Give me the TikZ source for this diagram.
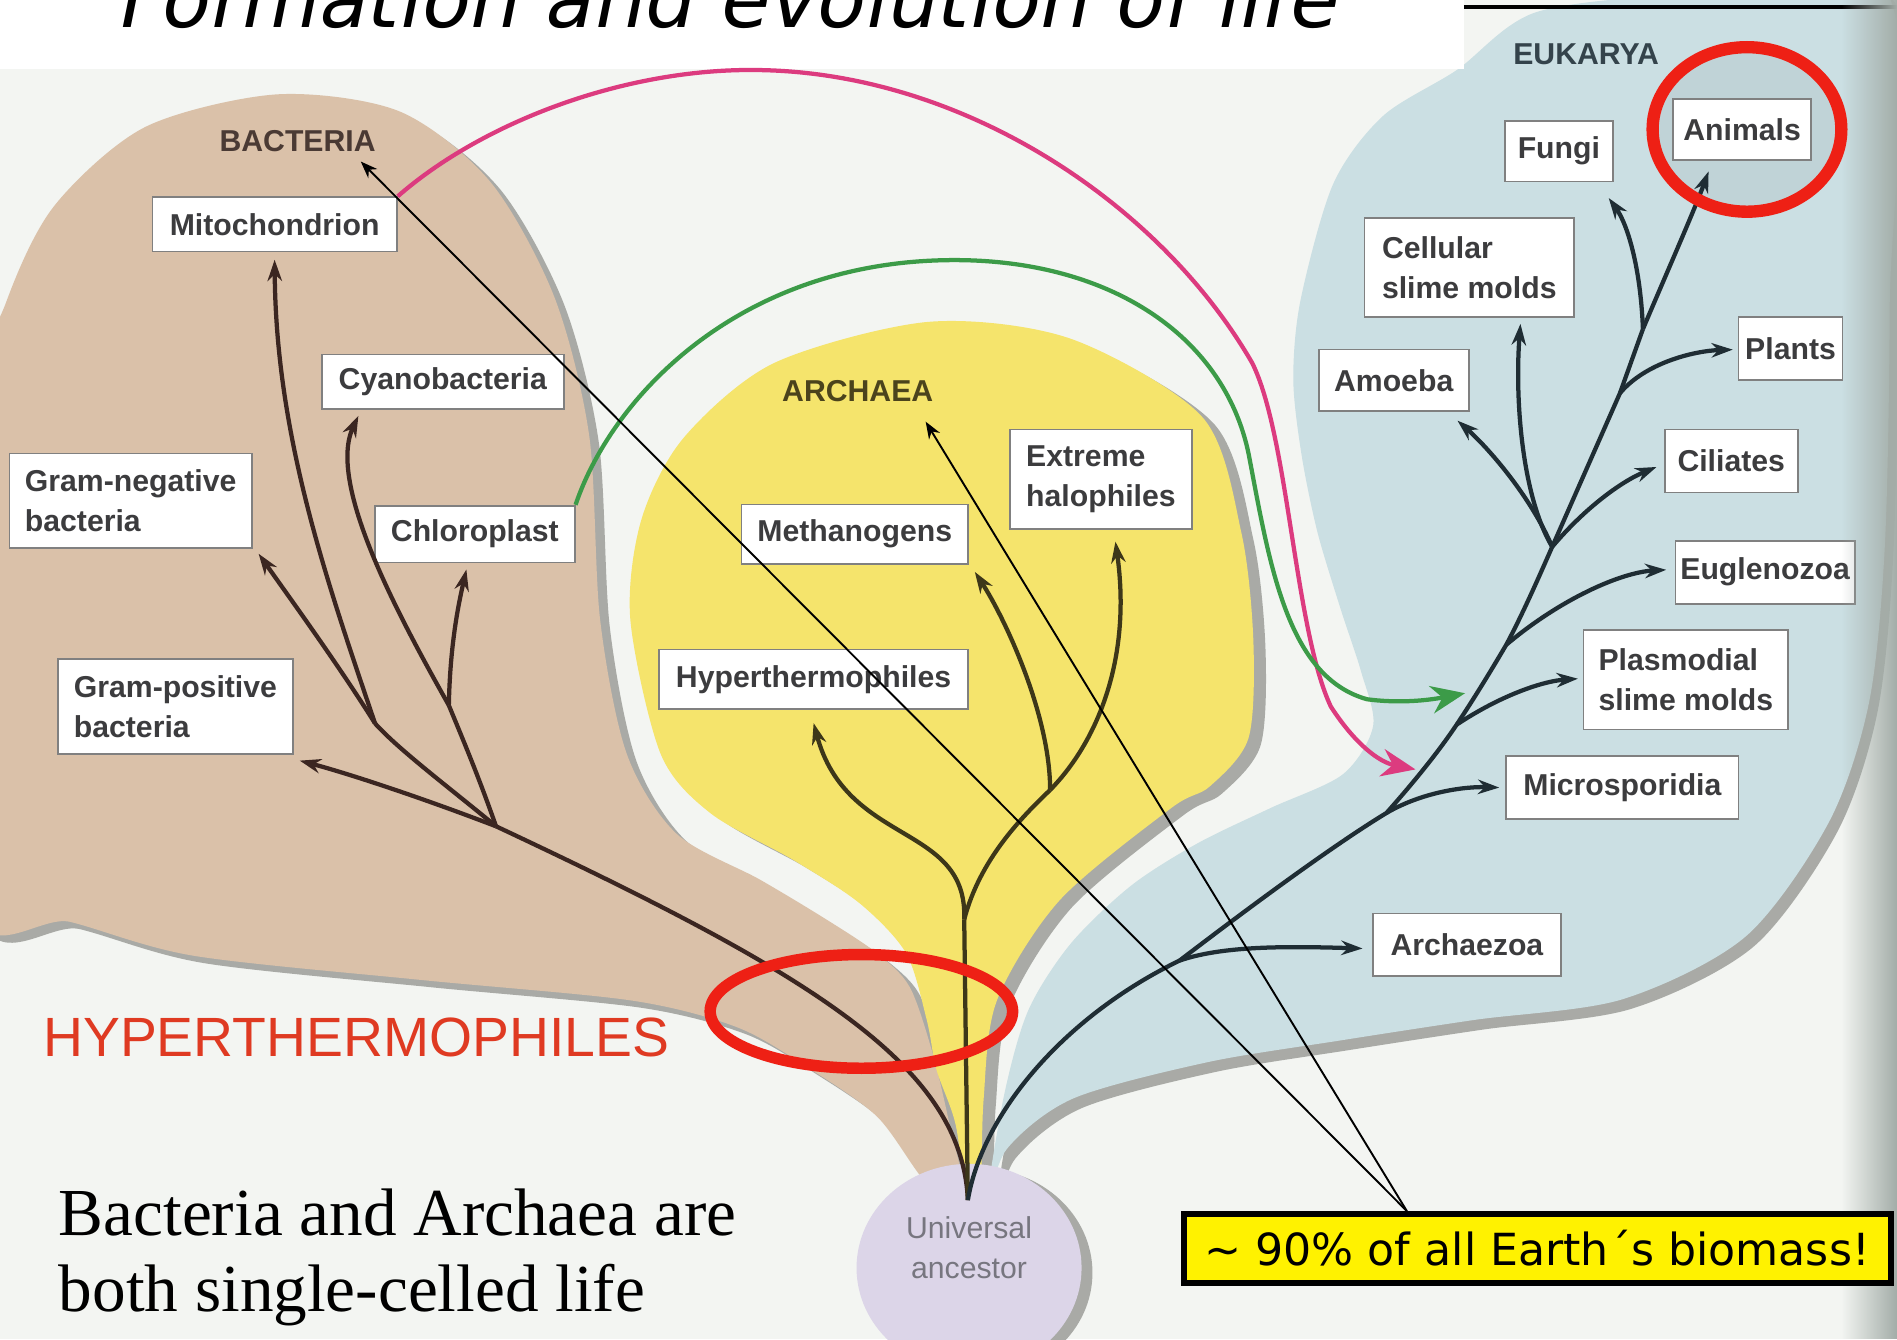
\documentclass[tikz,border=0pt]{standalone}
\usepackage{fontspec}
\setmainfont{Liberation Serif}
\newfontfamily\labelfont{Liberation Sans}
\newfontfamily\handfont{DejaVu Sans}
\newfontfamily\titlefont{DejaVu Sans}[FakeSlant=0.2]
\usetikzlibrary{arrows.meta,calc,fadings}
\definecolor{pagebg}{HTML}{F3F5F2}
\definecolor{bactfill}{HTML}{DAC1A9}
\definecolor{archfill}{HTML}{F5E46C}
\definecolor{eukfill}{HTML}{CBDFE3}
\definecolor{blobshadow}{HTML}{A9AAA6}
\definecolor{bactline}{HTML}{3B2621}
\definecolor{archline}{HTML}{3D3719}
\definecolor{eukline}{HTML}{1F2D34}
\definecolor{boxtext}{HTML}{3C3C3E}
\definecolor{plastid}{HTML}{3C9B48}
\definecolor{mitoline}{HTML}{DC3B7F}
\definecolor{markred}{HTML}{EE2015}
\definecolor{hyperred}{HTML}{DF3A22}
\definecolor{ancfill}{HTML}{DCD5E8}
\definecolor{ancestortext}{HTML}{77767F}
\definecolor{bactlabelcol}{HTML}{4A3A34}
\definecolor{archlabelcol}{HTML}{4B431C}
\definecolor{euklabelcol}{HTML}{34434B}
\definecolor{gutter}{HTML}{A3ADA8}
\newcommand\bacteriablob{plot[smooth cycle] coordinates {(-25,360) (5,250) (45,170) (120,105) (229,78) (330,92) (405,150) (458,245) (487,360) (496,512) (518,623) (559,689) (628,727) (683,760) (725,788) (752,816) (771,871) (785,930) (797,990) (766,978) (725,923) (667,882) (609,849) (522,827) (348,810) (160,790) (58,762) (-25,745)}}
\newcommand\archaeablob{plot[smooth cycle] coordinates {(800,1000) (790,930) (774,884) (766,843) (749,788) (711,747) (656,711) (587,672) (546,623) (521,512) (530,430) (565,362) (640,300) (768,266) (885,280) (994,345) (1026,440) (1036,530) (1032,610) (1000,650) (968,668) (876,744) (824,827) (813,909) (810,1000)}}
\newcommand\eukaryablob{plot[smooth cycle] coordinates {(815,998) (830,905) (850,835) (885,780) (935,732) (990,697) (1050,668) (1110,640) (1135,600) (1125,555) (1108,503) (1089,440) (1076,377) (1069,314) (1075,248) (1102,152) (1143,96) (1204,58) (1270,10) (1400,-5) (1560,-5) (1562,250) (1558,450) (1545,580) (1512,679) (1443,774) (1341,826) (1219,843) (1108,860) (998,878) (887,908) (832,950)}}
\begin{document}
\begin{tikzpicture}[x=0.01cm,y=-0.01cm,
  taxon/.style={draw=black!50, line width=0.4pt, fill=white, text=boxtext, align=left, inner sep=0pt, font=\labelfont\bfseries\fontsize{7.1}{9.4}\selectfont},
  domainlabel/.style={inner sep=0pt, font=\labelfont\bfseries\fontsize{7.1}{9.4}\selectfont},
  treeline/.style={line width=1pt},
  treearrow/.style={line width=1pt, -{Stealth[length=5pt,width=3.4pt]}},
  transfer/.style={line width=1pt, -{Stealth[length=8pt,width=6.5pt]}},
  pointer/.style={line width=0.45pt, -{Stealth[length=4pt,width=3pt]}},
  redring/.style={draw=markred, line width=2.7pt}]
\useasboundingbox (0,0) rectangle (1568,1107);
\clip (0,0) rectangle (1568,1107);
\fill[pagebg] (0,0) rectangle (1568,1107);
\fill[blobshadow, shift={(8,6)}] \bacteriablob;
\fill[bactfill] \bacteriablob;
\fill[blobshadow, shift={(10,6)}] \archaeablob;
\fill[archfill] \archaeablob;
\fill[blobshadow, shift={(7,8)}] \eukaryablob;
\fill[eukfill] \eukaryablob;
\fill[black, opacity=0.05] (1444,107) ellipse [x radius=76, y radius=66];
\fill[blobshadow] (810,1052) ellipse [x radius=93, y radius=86];
\fill[ancfill] (801,1048) ellipse [x radius=93, y radius=86];
\fill[white] (0,0) rectangle (1210,57);
\draw[line width=0.85pt] (1210,6) -- (1568,6);
\node[font=\titlefont\fontsize{18.7}{20}\selectfont, anchor=base west, inner sep=0pt] (title) at (95,23) {Formation and evolution of life};
\node[taxon, minimum width=2.02cm, minimum height=0.45cm] (mito) at (227,185.5) {Mitochondrion};
\node[taxon, minimum width=2cm, minimum height=0.45cm] (cyano) at (366,315.5) {Cyanobacteria};
\node[taxon, minimum width=2cm, minimum height=0.78cm] (gramneg) at (108,414) {Gram-negative\\bacteria};
\node[taxon, minimum width=1.65cm, minimum height=0.47cm] (chloro) at (392.5,441.5) {Chloroplast};
\node[taxon, minimum width=1.94cm, minimum height=0.78cm] (grampos) at (145,584) {Gram-positive\\bacteria};
\node[taxon, minimum width=1.87cm, minimum height=0.49cm] (methano) at (706.5,441.5) {Methanogens};
\node[taxon, minimum width=1.5cm, minimum height=0.82cm] (halo) at (910,396) {Extreme\\halophiles};
\node[taxon, minimum width=2.55cm, minimum height=0.49cm] (hyper) at (672.5,561.5) {Hyperthermophiles};
\node[taxon, minimum width=0.89cm, minimum height=0.5cm] (fungi) at (1288.5,125) {Fungi};
\node[taxon, minimum width=1.14cm, minimum height=0.5cm] (animals) at (1440,107) {Animals};
\node[taxon, minimum width=1.73cm, minimum height=0.82cm] (cellular) at (1214.5,221) {Cellular\\slime molds};
\node[taxon, minimum width=0.86cm, minimum height=0.52cm] (plants) at (1480,288) {Plants};
\node[taxon, minimum width=1.24cm, minimum height=0.51cm] (amoeba) at (1152,314.5) {Amoeba};
\node[taxon, minimum width=1.1cm, minimum height=0.52cm] (ciliates) at (1431,381) {Ciliates};
\node[taxon, minimum width=1.48cm, minimum height=0.52cm] (eugleno) at (1459,473) {Euglenozoa};
\node[taxon, minimum width=1.69cm, minimum height=0.82cm] (plasmo) at (1393.5,562) {Plasmodial\\slime molds};
\node[taxon, minimum width=1.92cm, minimum height=0.52cm] (micro) at (1341,651) {Microsporidia};
\node[taxon, minimum width=1.55cm, minimum height=0.52cm] (archaezoa) at (1212.5,781) {Archaezoa};
\node[domainlabel, text=bactlabelcol] (bactlabel) at (246,117) {BACTERIA};
\node[domainlabel, text=archlabelcol] (archlabel) at (709,323) {ARCHAEA};
\node[domainlabel, text=euklabelcol] (euklabel) at (1311,45) {EUKARYA};
\node[font=\labelfont\fontsize{7.1}{9.4}\selectfont, text=ancestortext, align=center, inner sep=0pt] (ancestor) at (801,1031) {Universal\\ancestor};
\coordinate (root) at (800,992);
\coordinate (bj) at (410,683);
\coordinate (bf1) at (310,598);
\coordinate (bf2) at (371,583);
\coordinate (af) at (797,760);
\coordinate (am) at (868,653);
\coordinate (ea) at (975,794);
\coordinate (em) at (1146,672);
\coordinate (ep) at (1204,599);
\coordinate (eg) at (1245,533);
\coordinate (ec) at (1283,452);
\coordinate (ev) at (1339,325);
\coordinate (eo) at (1358,272);
\coordinate (mitotarget) at (1170,636);
\coordinate (plastidtarget) at (1211,573);
\draw[treeline, bactline] (root) .. controls (795,880) and (670,805) .. (bj);
\draw[treearrow, bactline] (bj) .. controls (350,660) and (290,640) .. ($(grampos.south east)+(5,5)$);
\draw[treeline, bactline] (bj) .. controls (370,650) and (330,620) .. (bf1);
\draw[treearrow, bactline] (bf1) .. controls (280,550) and (240,495) .. ($(gramneg.south east)+(5,4)$);
\draw[treearrow, bactline] (bf1) .. controls (270,480) and (228,360) .. ($(mito.south)+(0,6)$);
\draw[treeline, bactline] (bj) .. controls (395,640) and (380,605) .. (bf2);
\draw[treearrow, bactline] (bf2) .. controls (372,530) and (380,495) .. ($(chloro.south)+(-7,5)$);
\draw[treearrow, bactline] (bf2) .. controls (330,510) and (270,400) .. ($(cyano.south west)+(31,5)$);
\draw[treeline, archline] (root) -- (af);
\draw[treearrow, archline] (af) .. controls (800,680) and (700,700) .. ($(hyper.south)+(0,11)$);
\draw[treeline, archline] (af) .. controls (810,710) and (845,675) .. (am);
\draw[treearrow, archline] (am) .. controls (868,590) and (830,510) .. ($(methano.south east)+(5,6)$);
\draw[treearrow, archline] (am) .. controls (910,610) and (935,540) .. ($(halo.south)+(12,10)$);
\draw[treeline, eukline] (root) .. controls (812,920) and (880,840) .. (ea);
\draw[treearrow, eukline] (ea) .. controls (1010,782) and (1060,782) .. ($(archaezoa.west)+(-8,3)$);
\draw[treeline, eukline] (ea) .. controls (1030,752) and (1100,700) .. (em) .. controls (1170,645) and (1190,620) .. (ep) .. controls (1220,575) and (1235,550) .. (eg) .. controls (1260,505) and (1275,470) .. (ec) -- (ev) -- (eo);
\draw[treearrow, eukline] (em) .. controls (1175,655) and (1210,650) .. ($(micro.west)+(-5,0)$);
\draw[treearrow, eukline] (ep) .. controls (1240,575) and (1275,563) .. ($(plasmo.west)+(-4,-1)$);
\draw[treearrow, eukline] (eg) .. controls (1290,495) and (1340,473) .. ($(eugleno.west)+(-7,-2)$);
\draw[treearrow, eukline] (ec) .. controls (1310,420) and (1340,398) .. ($(ciliates.west)+(-6,5)$);
\draw[treearrow, eukline] (ec) .. controls (1265,410) and (1230,370) .. ($(amoeba.south east)+(-10,7)$);
\draw[treearrow, eukline] (ec) .. controls (1258,410) and (1252,330) .. ($(cellular.south east)+(-45,5)$);
\draw[treearrow, eukline] (ev) .. controls (1360,300) and (1400,290) .. ($(plants.west)+(-4,1)$);
\draw[treearrow, eukline] (eo) .. controls (1380,220) and (1400,175) .. ($(animals.south west)+(30,9)$);
\draw[treearrow, eukline] (eo) .. controls (1356,220) and (1345,185) .. ($(fungi.south east)+(-4,13)$);
\draw[transfer, mitoline] (mito.north east) .. controls (400,100) and (520,55) .. (631,58) .. controls (800,62) and (960,170) .. (1035,300) .. controls (1065,360) and (1070,520) .. (1100,584) .. controls (1120,615) and (1140,630) .. (mitotarget);
\draw[transfer, plastid] (chloro.north east) .. controls (505,330) and (610,215) .. (789,215) .. controls (920,215) and (1015,280) .. (1033,380) .. controls (1050,470) and (1065,560) .. (1130,578) .. controls (1160,582) and (1185,578) .. (plastidtarget);
\node[font=\labelfont\fontsize{13}{15}\selectfont, text=hyperred, anchor=base west, inner sep=0pt] (hyperlabel) at (35,873) {HYPERTHERMOPHILES};
\node[font=\fontsize{15.8}{17.9}\selectfont, align=left, anchor=north west, inner sep=0pt] (caption) at (48,982) {Bacteria and Archaea are\\both single-celled life};
\fill[gutter, path fading=west] (1522,0) rectangle (1568,1107);
\node[draw=black, line width=1.4pt, fill=yellow, inner sep=0pt, minimum width=5.84cm, minimum height=0.57cm, font=\handfont\fontsize{10.4}{12}\selectfont] (biomass) at (1270.5,1032) {\char"7E\ 90\% of all Earth´s biomass!};
\coordinate (callout) at ($(biomass.north west)+(187,0)$);
\draw[pointer] (callout) -- ($(bactlabel.south east)+(-13,7)$);
\draw[pointer] (callout) -- ($(archlabel.south east)+(-7,16)$);
\draw[redring] (712,836) ellipse [x radius=125, y radius=47];
\draw[redring, line width=2.9pt] (1444,107) ellipse [x radius=78, y radius=68];
\end{tikzpicture}
\end{document}
